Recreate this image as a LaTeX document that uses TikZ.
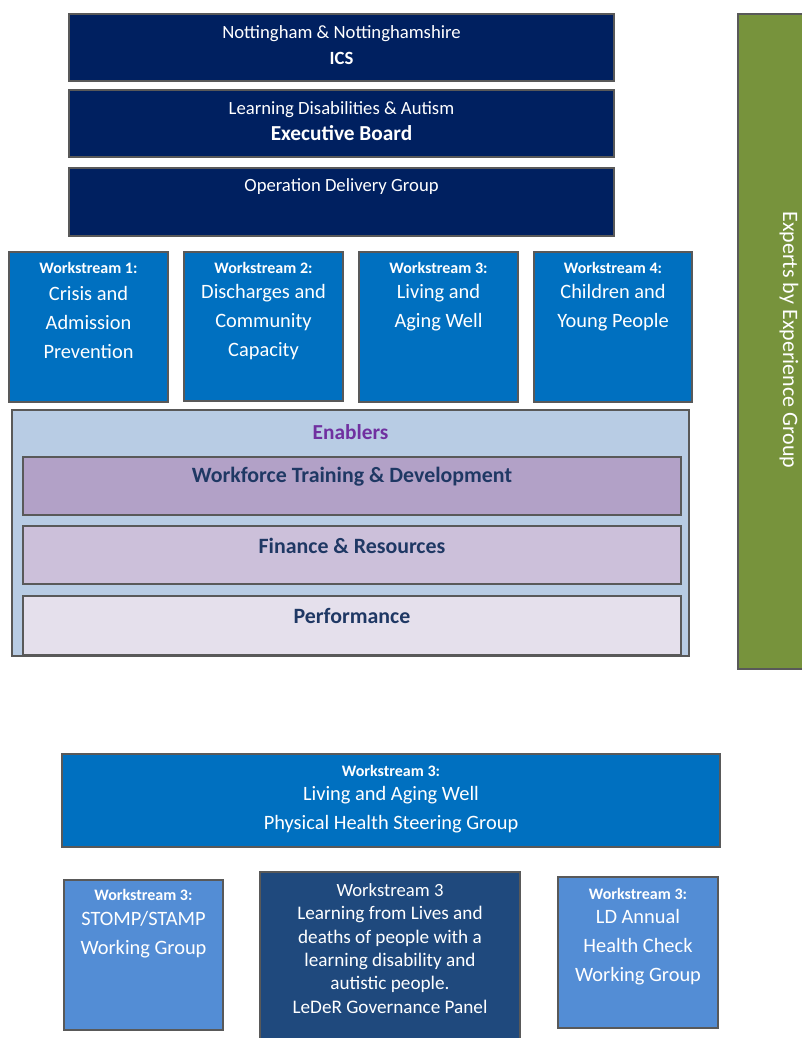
\documentclass[tikz,border=0pt]{standalone}
\usepackage{fontspec}
\setmainfont{Carlito}
\usetikzlibrary{positioning, fit}
\definecolor{icsnavy}{RGB}{0, 32, 96}
\definecolor{wsblue}{RGB}{0, 112, 192}
\definecolor{wslight}{RGB}{83, 141, 213}
\definecolor{ledernavy}{RGB}{31, 73, 125}
\definecolor{enabbg}{RGB}{184, 204, 228}
\definecolor{wfpurple}{RGB}{178, 161, 199}
\definecolor{finpurple}{RGB}{204, 192, 218}
\definecolor{perfpurple}{RGB}{229, 224, 236}
\definecolor{enabtext}{RGB}{112, 48, 160}
\definecolor{bandtext}{RGB}{31, 56, 100}
\definecolor{expgreen}{RGB}{119, 147, 60}

\begin{document}
\begin{tikzpicture}[x=0.75pt, y=-0.75pt,
  box/.style={draw=black!65, line width=0.8pt, inner sep=0pt},
  navybox/.style={box, fill=icsnavy},
  wsbox/.style={box, fill=wsblue},
  wtitle/.style={text=white, font=\fontsize{12}{13}\selectfont\bfseries},
  wtext/.style={text=white, align=center, font=\fontsize{15.3}{21.75}\selectfont},
  navytext/.style={text=white, align=center, font=\fontsize{14}{19.5}\selectfont},
  bandbox/.style={box, line width=1pt},
  bandtext/.style={text=bandtext, font=\fontsize{16.4}{18}\selectfont\bfseries}]
  \useasboundingbox (0,0) rectangle (801,1038);

  % Governance chain
  \node[navybox, fit={(69,14) (614,81)}] (ics) {};
  \node[navytext] (icst) at (341.5,45) {Nottingham \& Nottinghamshire\\\textbf{ICS}};
  \node[navybox, fit={(69,90) (614,157)}] (exec) {};
  \node[navytext] (exect) at (341.5,121.5) {Learning Disabilities \& Autism\\{\fontsize{16}{19.5}\selectfont\bfseries Executive Board}};
  \node[navybox, fit={(69,168) (614,236)}] (odg) {};
  \node[navytext] (odgt) at (341.5,187) {Operation Delivery Group};

  % Workstreams
  \node[wsbox, fit={(9,252) (168,402)}] (ws1) {};
  \node[wtitle] (ws1t) at (88.5,268) {Workstream 1:};
  \node[wtext] (ws1x) at (88.5,322) {Crisis and\\Admission\\Prevention};
  \node[wsbox, fit={(184,252) (343,401)}] (ws2) {};
  \node[wtitle] (ws2t) at (263.5,268) {Workstream 2:};
  \node[wtext] (ws2x) at (263.5,322) {Discharges and\\Community\\Capacity};
  \node[wsbox, fit={(359,252) (518,402)}] (ws3) {};
  \node[wtitle] (ws3t) at (438.5,268) {Workstream 3:};
  \node[wtext] (ws3x) at (438.5,307.5) {Living and\\Aging Well};
  \node[wsbox, fit={(534,252) (692,402)}] (ws4) {};
  \node[wtitle] (ws4t) at (613,268) {Workstream 4:};
  \node[wtext] (ws4x) at (613,307.5) {Children and\\Young People};

  % Enablers
  \node[box, fill=enabbg, fit={(12,410) (689,656)}] (enab) {};
  \node[text=enabtext, font=\fontsize{16}{18}\selectfont\bfseries] (enabt) at (350.5,432) {Enablers};
  \node[bandbox, fill=wfpurple, fit={(23,457) (681,515)}] (wf) {};
  \node[bandtext] (wft) at (352,477) {Workforce Training \& Development};
  \node[bandbox, fill=finpurple, fit={(23,526) (681,584)}] (fin) {};
  \node[bandtext] (fint) at (352,546) {Finance \& Resources};
  \node[bandbox, fill=perfpurple, fit={(23,596) (681,655)}] (perf) {};
  \node[bandtext] (perft) at (352,616) {Performance};

  % Experts by Experience
  \node[box, fill=expgreen, fit={(738,14) (840,669)}] (exp) {};
  \node[text=white, rotate=-90, font=\fontsize{16.5}{18}\selectfont] (expt) at (789,340) {Experts by Experience Group};

  % Physical health steering group
  \node[wsbox, fit={(62,754) (720,847)}] (phsg) {};
  \node[wtitle] (phsgt) at (391,771) {Workstream 3:};
  \node[wtext] (phsgx) at (391,810) {Living and Aging Well\\Physical Health Steering Group};

  \node[box, fill=wslight, fit={(64,880) (223,1030)}] (stomp) {};
  \node[wtitle] (stompt) at (143.5,895) {Workstream 3:};
  \node[wtext] (stompx) at (143.5,934.5) {STOMP/STAMP\\Working Group};

  \node[box, fill=ledernavy, fit={(260,872) (520,1045)}] (leder) {};
  \node[text=white, align=center, font=\fontsize{14.4}{17.5}\selectfont] (ledert) at (390,948.5)
    {{\fontsize{14}{17.5}\selectfont Workstream 3}\\Learning from Lives and\\deaths of people with a\\learning disability and\\autistic people.\\LeDeR Governance Panel};

  \node[box, fill=wslight, fit={(558,877) (718,1028)}] (ldahc) {};
  \node[wtitle] (ldahct) at (638,894) {Workstream 3:};
  \node[wtext] (ldahcx) at (638,947.5) {LD Annual\\Health Check\\Working Group};
\end{tikzpicture}
\end{document}
